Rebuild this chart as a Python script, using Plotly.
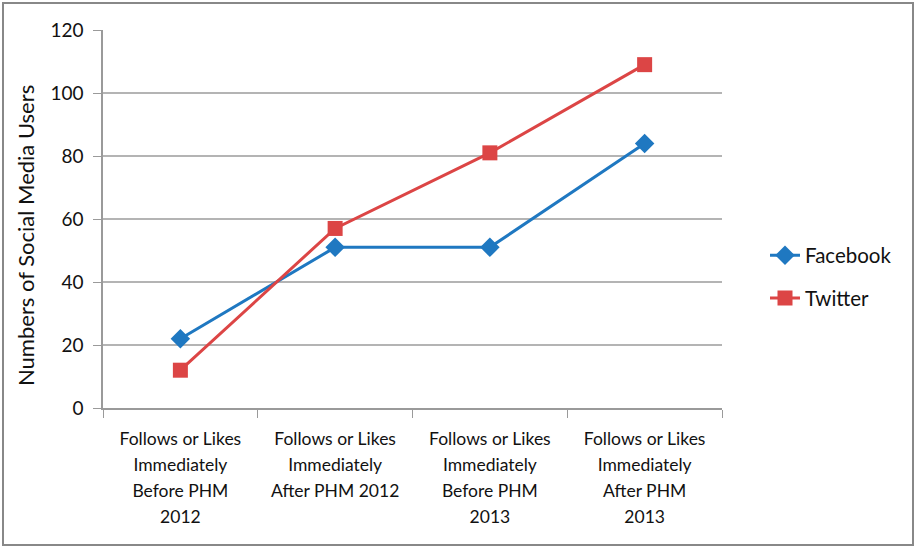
import plotly.graph_objects as go

categories = [
    "Follows or Likes<br>Immediately<br>Before PHM<br>2012",
    "Follows or Likes<br>Immediately<br>After PHM 2012",
    "Follows or Likes<br>Immediately<br>Before PHM<br>2013",
    "Follows or Likes<br>Immediately<br>After PHM<br>2013",
]
facebook = [22, 51, 51, 84]
twitter = [12, 57, 81, 109]
y_ticks = [0, 20, 40, 60, 80, 100, 120]
y_title = "Numbers of Social Media Users"

FONT = "Lato, 'Open Sans', sans-serif"

# tick text: each line wrapped to keep glyphs at 17px while line spacing follows the 20px base
ticktext = ["<br>".join('<span style="font-size:17.5px">%s</span>' % ln for ln in c.split("<br>"))
            for c in categories]

fig = go.Figure()
fig.add_trace(go.Scatter(
    x=categories, y=facebook, name="Facebook", mode="lines+markers", legendgroup="fb",
    line=dict(color="#1F78C1", width=3),
    marker=dict(symbol="diamond", size=15, color="#1F78C1"),
))
fig.add_trace(go.Scatter(
    x=categories, y=twitter, name="Twitter", mode="lines+markers", legendgroup="tw",
    line=dict(color="#DC4545", width=3),
    marker=dict(symbol="square", size=15, color="#DC4545"),
))

W, H = 917, 548
L, R, T, B = 103, 195, 30, 140
pw, ph = W - L - R, H - T - B

fig.update_layout(
    width=W, height=H,
    margin=dict(l=L, r=R, t=T, b=B, autoexpand=False),
    paper_bgcolor="white", plot_bgcolor="white",
    font=dict(family=FONT, size=18, color="#111111"),
    showlegend=True,
    legend=dict(x=(765 - L) / pw, y=(408 - 277) / ph, xanchor="left", yanchor="middle",
                font=dict(size=20.5), tracegroupgap=13,
                bgcolor="rgba(0,0,0,0)"),
    xaxis=dict(
        type="category", tickson="boundaries", ticks="outside", ticklen=8,
        tickcolor="#9A9A9A", showline=True, linecolor="#9A9A9A", linewidth=1.5,
        showgrid=False, tickfont=dict(size=20), range=[-0.5, 3.5],
        tickvals=categories, ticktext=ticktext, ticklabelstandoff=11,
    ),
    yaxis=dict(
        range=[0, 120], tickvals=y_ticks, ticks="outside", ticklen=8,
        tickcolor="#9A9A9A", showline=True, linecolor="#9A9A9A", linewidth=1.5,
        showgrid=True, gridcolor="#B4B4B4", gridwidth=1.5,
        tickfont=dict(size=19), zeroline=False, ticklabelstandoff=6,
    ),
    annotations=[dict(
        text=y_title, textangle=-90, xref="paper", yref="paper",
        x=(25 - L) / pw, y=(408 - 235) / ph, xanchor="center", yanchor="middle",
        showarrow=False, font=dict(size=22),
    )],
    shapes=[dict(
        type="rect", xref="paper", yref="paper",
        x0=(3 - L) / pw, x1=(913 - L) / pw,
        y0=(408 - 545) / ph, y1=(408 - 3) / ph,
        line=dict(color="#888888", width=2), fillcolor="rgba(0,0,0,0)", layer="below",
    )],
)

fig.write_html("out.html", config={"displayModeBar": False},
               post_script="document.body.style.margin='0';")
